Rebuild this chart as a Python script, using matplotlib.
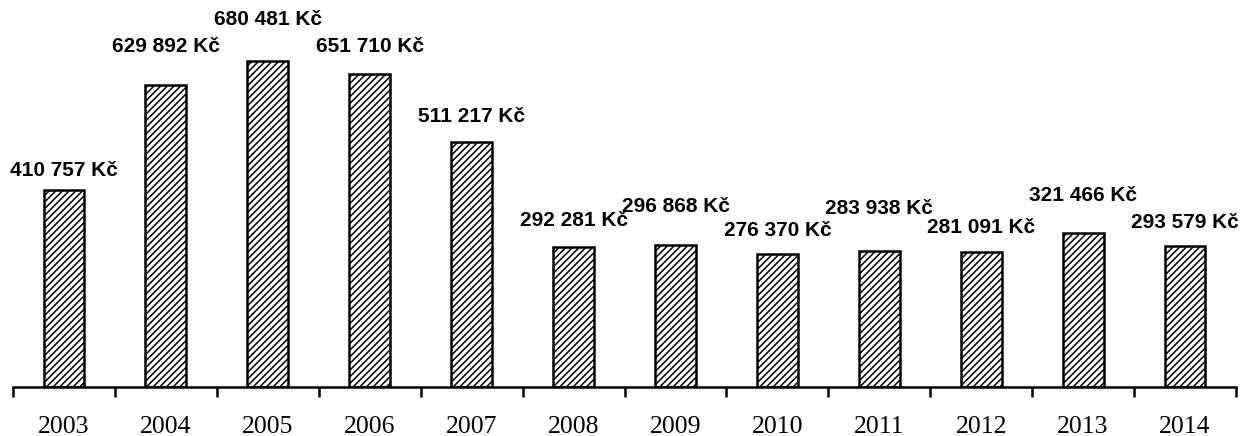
import matplotlib
matplotlib.use("Agg")
import matplotlib.pyplot as plt

years = ["2003", "2004", "2005", "2006", "2007", "2008", "2009", "2010", "2011", "2012", "2013", "2014"]
values = [410757, 629892, 680481, 651710, 511217, 292281, 296868, 276370, 283938, 281091, 321466, 293579]
labels = ["410 757 Kč", "629 892 Kč", "680 481 Kč", "651 710 Kč", "511 217 Kč", "292 281 Kč",
          "296 868 Kč", "276 370 Kč", "283 938 Kč", "281 091 Kč", "321 466 Kč", "293 579 Kč"]
# label vertical offsets above bar top (pixels), layout only
label_offsets_px = [20, 38, 41, 28, 25, 26, 38, 24, 42, 25, 37, 24]

plt.rcParams['hatch.linewidth'] = 1.1
plt.rcParams['hatch.color'] = '#333333'
fig = plt.figure(figsize=(12.42, 4.36), dpi=100)
W, H = 1242, 436
ax = fig.add_axes([13 / W, 49 / H, 1223 / W, 387 / H])

x = list(range(len(years)))
ax.bar(x, values, width=0.4, facecolor="white", edgecolor="black", linewidth=1.8, hatch="/////")

for xi, v, lab, off in zip(x, values, labels, label_offsets_px):
    ax.annotate(lab, (xi, v), xytext=(0, off * 0.72), textcoords="offset points",
                ha="center", va="center", fontsize=15, fontweight="bold",
                family="Liberation Sans", annotation_clip=False)

ax.set_xlim(-0.5, len(years) - 0.5)
ax.set_ylim(0, 807000)
for s in ["top", "right", "left"]:
    ax.spines[s].set_visible(False)
ax.spines["bottom"].set_linewidth(1.8)
ax.set_yticks([])
ax.set_xticks(x)
ax.set_xticklabels(years, family="Liberation Serif", fontsize=18.5)
ax.tick_params(axis="x", which="major", length=0, pad=21)
ax.set_xticks([i - 0.5 for i in range(len(years) + 1)], minor=True)
ax.tick_params(axis="x", which="minor", length=7, width=1.8, direction="out")

fig.savefig("out.png", dpi=100)
